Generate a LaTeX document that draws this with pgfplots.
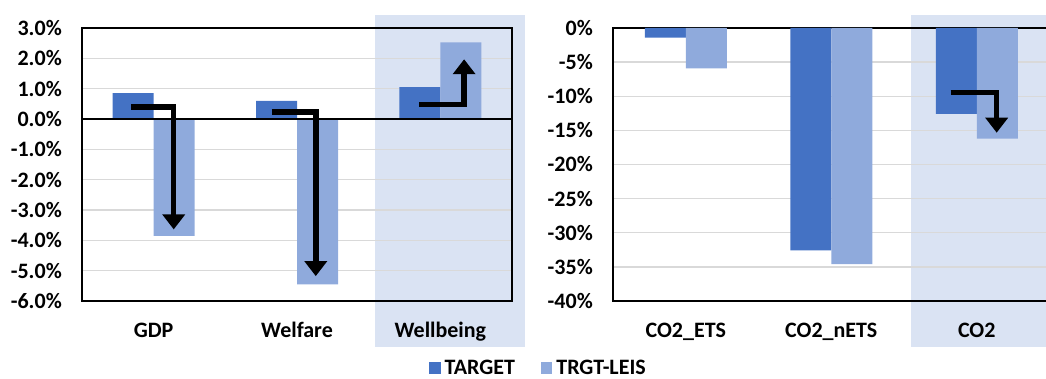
\documentclass[border=0pt]{standalone}
\usepackage{pgfplots}
\pgfplotsset{compat=1.18}
\usepackage{fontspec}
\setmainfont{Carlito}
\usetikzlibrary{arrows.meta}
\definecolor{cT}{HTML}{4472C4}
\definecolor{cL}{HTML}{8FAADC}
\definecolor{hlc}{HTML}{DAE3F3}
\definecolor{gridc}{HTML}{D9D9D9}
\newcommand\lbl{\fontsize{22}{26}\selectfont\bfseries}
\pgfplotsset{
  sq legend/.style={legend image code/.code={\fill[##1] (0pt,-5.7pt) rectangle (11.4pt,5.7pt);}},
  myaxis/.style={
    set layers, clip=false, scale only axis, height=273pt,
    anchor=south west, xmin=-0.5, xmax=2.5, xtick={0,1,2},
    ymajorgrids, grid style={gridc, line width=1.3pt},
    axis line style={black, line width=1.3pt},
    major tick length=0pt,
    tick style={draw=none},
    ticklabel style={font=\lbl},
    xticklabel style={anchor=base, inner sep=0pt, yshift=-36pt},
    yticklabel style={anchor=east, inner sep=0pt, xshift=-20pt},
  },
  arr/.style={black, line width=5.5pt, -{Triangle[width=22pt,length=15pt]}, mark=none},
  barT/.style={ybar, bar width=41pt, bar shift=-20.5pt, fill=cT, draw=none, sq legend},
  barL/.style={ybar, bar width=41pt, bar shift=20.5pt, fill=cL, draw=none, sq legend},
}
\begin{document}
\begin{tikzpicture}
\begin{axis}[myaxis, at={(82pt,77pt)}, width=430pt,
  ymin=-6, ymax=3, ytick={-6,-5,...,3},
  yticklabels={-6.0\%,-5.0\%,-4.0\%,-3.0\%,-2.0\%,-1.0\%,0.0\%,1.0\%,2.0\%,3.0\%},
  xticklabels={GDP,Welfare,Wellbeing},
  legend columns=2,
  legend style={at={(0.807,-0.245)}, anchor=west, draw=none, fill=none, inner sep=0pt,
    font=\lbl, nodes={inner sep=0pt},
    /tikz/every odd column/.append style={column sep=4pt},
    /tikz/every even column/.append style={column sep=26pt}},
]
\begin{pgfonlayer}{axis background}
\fill[hlc] (axis cs:1.545,3.44) rectangle (axis cs:2.59,-7.51);
\end{pgfonlayer}
\addplot[barT] coordinates {(0,0.85) (1,0.6) (2,1.05)};
\addlegendentry{TARGET}
\addplot[barL] coordinates {(0,-3.85) (1,-5.45) (2,2.53)};
\addlegendentry{TRGT-LEIS}
\addplot[black, line width=1.3pt, mark=none] coordinates {(-0.5,0) (2.5,0)};
\addplot[arr] coordinates {(-0.158,0.40) (0.14,0.40) (0.14,-3.64)};
\addplot[arr] coordinates {(0.824,0.23) (1.131,0.23) (1.131,-5.18)};
\addplot[arr] coordinates {(1.854,0.48) (2.166,0.48) (2.166,1.97)};
\end{axis}
\begin{axis}[myaxis, at={(613pt,77pt)}, width=436.5pt,
  ymin=-40, ymax=0, ytick={-40,-35,...,0},
  yticklabels={-40\%,-35\%,-30\%,-25\%,-20\%,-15\%,-10\%,-5\%,0\%},
  xticklabels={CO2\_ETS,CO2\_nETS,CO2}]
\begin{pgfonlayer}{axis background}
\fill[hlc] (axis cs:1.548,1.9) rectangle (axis cs:3,-46.7);
\end{pgfonlayer}
\addplot[barT] coordinates {(0,-1.4) (1,-32.6) (2,-12.6)};
\addplot[barL] coordinates {(0,-5.9) (1,-34.6) (2,-16.2)};
\addplot[arr] coordinates {(1.821,-9.48) (2.137,-9.48) (2.137,-15.34)};
\end{axis}
\pgfresetboundingbox
\useasboundingbox (0,0) rectangle (1046pt,378pt);
\end{tikzpicture}
\end{document}
